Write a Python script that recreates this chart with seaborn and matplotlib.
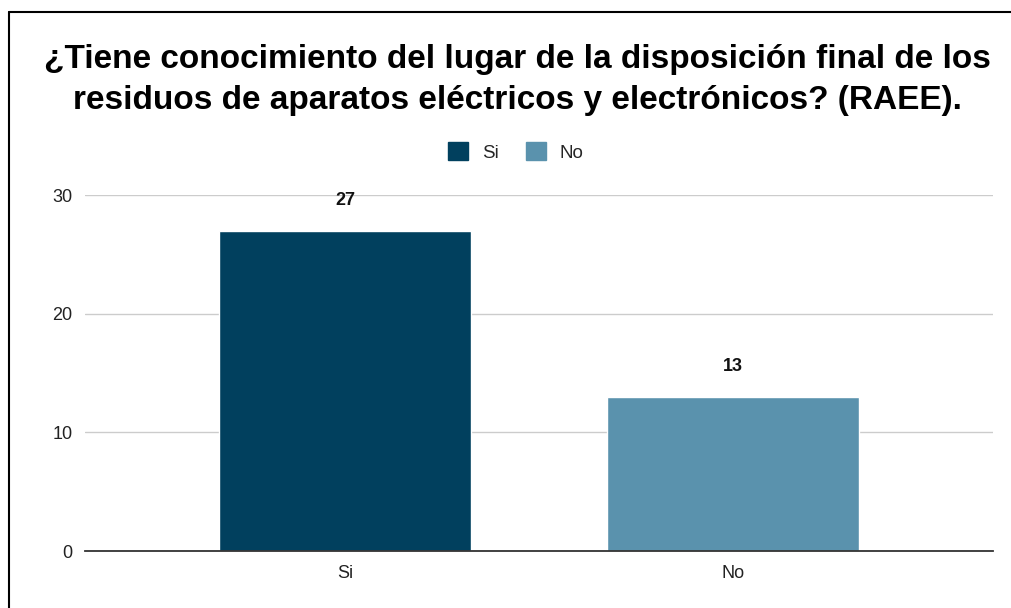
import matplotlib
matplotlib.use("Agg")
import matplotlib.pyplot as plt
import seaborn as sns
import pandas as pd
from matplotlib.patches import Patch
from matplotlib.lines import Line2D

categories = ["Si", "No"]
values = [27, 13]
colors = ["#01405e", "#5a92ad"]
yticks = [0, 10, 20, 30]
title = ("¿Tiene conocimiento del lugar de la disposición final de los\n"
         "residuos de aparatos eléctricos y electrónicos? (RAEE).")

sns.set_theme(style="white")
plt.rcParams["font.family"] = ["Liberation Sans", "DejaVu Sans"]

df = pd.DataFrame({"respuesta": categories, "total": values})

fig = plt.figure(figsize=(10.11, 6.08), dpi=100)
ax = fig.add_axes([85 / 1011, 57 / 608, 908 / 1011, 356 / 608])

sns.barplot(data=df, x="respuesta", y="total", hue="respuesta",
            palette=dict(zip(categories, colors)), width=0.65,
            legend=False, ax=ax, saturation=1)

ax.set_xlim(-0.67, 1.67)
ax.set_ylim(0, 30)
ax.set_yticks(yticks)
ax.yaxis.grid(True, color="#cccccc", linewidth=1)
ax.set_axisbelow(True)
for s in ["top", "right", "left"]:
    ax.spines[s].set_visible(False)
ax.spines["bottom"].set_color("#333333")
ax.spines["bottom"].set_linewidth(1.3)
ax.set_xlabel("")
ax.set_ylabel("")
ax.tick_params(axis="both", length=0, labelsize=13, colors="#222222")
ax.tick_params(axis="y", pad=9)
ax.tick_params(axis="x", pad=10)

for i, v in enumerate(values):
    ax.annotate(str(v), (i, v), xytext=(0, 22), textcoords="offset points",
                ha="center", va="center", fontsize=13, fontweight="bold",
                color="#111111")

fig.text(0.512, 1 - 80 / 608, title, ha="center", va="center",
         fontsize=24, fontweight="bold", color="#000000", linespacing=1.38)

handles = [Patch(facecolor=c, edgecolor=c, label=n) for n, c in zip(categories, colors)]
fig.legend(handles=handles, loc="center", bbox_to_anchor=(0.51, 1 - 152 / 608),
           ncol=2, frameon=False, fontsize=13.5, handlelength=1.07, handleheight=1.07,
           columnspacing=1.45, handletextpad=0.75)

# outer frame lines along the top and left edge
fig.add_artist(Line2D([9 / 1011, 1.0], [1 - 12 / 608, 1 - 12 / 608],
                      transform=fig.transFigure, color="black", linewidth=1.5))
fig.add_artist(Line2D([9 / 1011, 9 / 1011], [0, 1 - 12 / 608],
                      transform=fig.transFigure, color="black", linewidth=1.5))

fig.savefig("out.png", dpi=100, facecolor="white")
